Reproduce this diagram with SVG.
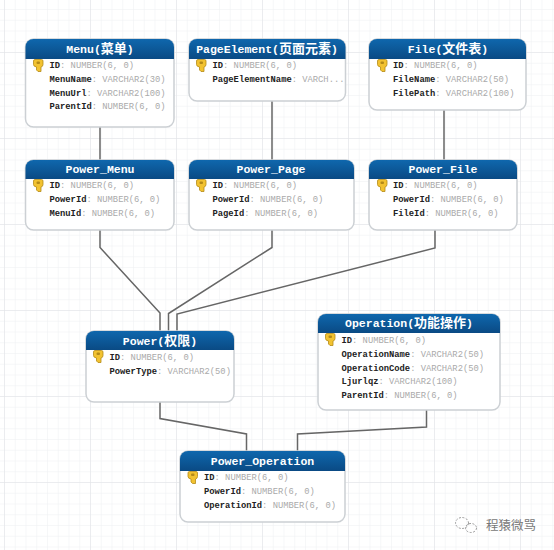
<svg xmlns="http://www.w3.org/2000/svg" width="554" height="550" viewBox="0 0 554 550">
<style>
.t{font:bold 11.500px "Liberation Mono","Noto Sans CJK SC",monospace;fill:#fff;text-anchor:middle}
.t tspan{font-size:13px;font-family:"Noto Sans CJK SC",sans-serif}
.f{font:8.800px "Liberation Mono",monospace;fill:#222;font-weight:bold}
.f tspan{fill:#aaa;font-weight:normal}
.b{fill:#fff;stroke:#ccd0d4;stroke-width:1.5}
.h{fill:url(#hd)}
.c{fill:none;stroke:#666;stroke-width:1.5}
.w{fill:none;stroke:#999;stroke-width:1;stroke-dasharray:2 1.500}
</style>
<defs>
<pattern id="minor" width="10.75" height="10.75" patternUnits="userSpaceOnUse" x="4" y="-1.75"><path d="M0 0V10.75M0 0H10.75" fill="none" stroke="#eef0f2" stroke-width="1"/></pattern>
<pattern id="major" width="86" height="86" patternUnits="userSpaceOnUse" x="4" y="52"><path d="M0 0V86M0 0H86" fill="none" stroke="#dfe2e5" stroke-width="1"/></pattern>
<linearGradient id="hd" x1="0" y1="0" x2="0" y2="1"><stop offset="0" stop-color="#0f67ad"/><stop offset="1" stop-color="#0a4a84"/></linearGradient>
<g id="key"><path d="M0 1.500Q0 0 1.500 0H8Q9.500 0 9.500 1.500V5Q9.500 7 7.500 7.500V12H4.500L3 10.500V7.500Q0 7 0 5Z" fill="#f2c230" stroke="#b48a18" stroke-width="0.8"/><rect x="3" y="2" width="3.500" height="2.500" rx="1" fill="#b48a18"/></g>
</defs>
<rect width="554" height="550" fill="#fff"/>
<rect width="554" height="550" fill="url(#minor)"/>
<rect width="554" height="550" fill="url(#major)"/>
<g id="connectors">
<path class="c" d="M100 127V160"/>
<path class="c" d="M272 101V160"/>
<path class="c" d="M444 110V160"/>
<path class="c" d="M100 230V247.500L160 313V331"/>
<path class="c" d="M272 230V247.500L168.500 313.500V331"/>
<path class="c" d="M435 230V248L177 314V331"/>
<path class="c" d="M160 402V418.500L246.500 434V451"/>
<path class="c" d="M426.500 410V427L297.500 434V451"/>
</g>
<g id="menu"><rect class="b" x="25.500" y="39" width="148.500" height="88" rx="8"/><path class="h" d="M25.500 59V47a8 8 0 0 1 8-8H166a8 8 0 0 1 8 8V59Z"/><text class="t" x="100" y="53">Menu(<tspan>菜单</tspan>)</text><use href="#key" x="33.500" y="59.500"/><text class="f" x="49.500" y="68">ID<tspan>: NUMBER(6, 0)</tspan></text><text class="f" x="49.500" y="82">MenuName<tspan>: VARCHAR2(30)</tspan></text><text class="f" x="49.500" y="95.500">MenuUrl<tspan>: VARCHAR2(100)</tspan></text><text class="f" x="49.500" y="109">ParentId<tspan>: NUMBER(6, 0)</tspan></text></g>
<g id="pageelement"><rect class="b" x="189" y="39" width="156.500" height="62" rx="8"/><path class="h" d="M189 59V47a8 8 0 0 1 8-8H337.500a8 8 0 0 1 8 8V59Z"/><text class="t" x="267" y="53">PageElement(<tspan>页面元素</tspan>)</text><use href="#key" x="196.500" y="59.500"/><text class="f" x="212.500" y="68">ID<tspan>: NUMBER(6, 0)</tspan></text><text class="f" x="212.500" y="82">PageElementName<tspan>: VARCH...</tspan></text></g>
<g id="file"><rect class="b" x="369" y="39" width="157" height="71" rx="8"/><path class="h" d="M369 59V47a8 8 0 0 1 8-8H518a8 8 0 0 1 8 8V59Z"/><text class="t" x="448" y="53">File(<tspan>文件表</tspan>)</text><use href="#key" x="377.500" y="59.500"/><text class="f" x="393" y="68">ID<tspan>: NUMBER(6, 0)</tspan></text><text class="f" x="393" y="82">FileName<tspan>: VARCHAR2(50)</tspan></text><text class="f" x="393" y="95.500">FilePath<tspan>: VARCHAR2(100)</tspan></text></g>
<g id="power_menu"><rect class="b" x="25.500" y="160" width="148.500" height="70" rx="8"/><path class="h" d="M25.500 179V168a8 8 0 0 1 8-8H166a8 8 0 0 1 8 8V179Z"/><text class="t" x="100" y="173">Power_Menu</text><use href="#key" x="33.500" y="179.500"/><text class="f" x="49.500" y="188">ID<tspan>: NUMBER(6, 0)</tspan></text><text class="f" x="49.500" y="202">PowerId<tspan>: NUMBER(6, 0)</tspan></text><text class="f" x="49.500" y="215.500">MenuId<tspan>: NUMBER(6, 0)</tspan></text></g>
<g id="power_page"><rect class="b" x="189" y="160" width="165" height="70" rx="8"/><path class="h" d="M189 179V168a8 8 0 0 1 8-8H346a8 8 0 0 1 8 8V179Z"/><text class="t" x="271" y="173">Power_Page</text><use href="#key" x="196.500" y="179.500"/><text class="f" x="212.500" y="188">ID<tspan>: NUMBER(6, 0)</tspan></text><text class="f" x="212.500" y="202">PowerId<tspan>: NUMBER(6, 0)</tspan></text><text class="f" x="212.500" y="215.500">PageId<tspan>: NUMBER(6, 0)</tspan></text></g>
<g id="power_file"><rect class="b" x="369" y="160" width="148" height="70" rx="8"/><path class="h" d="M369 179V168a8 8 0 0 1 8-8H509a8 8 0 0 1 8 8V179Z"/><text class="t" x="443" y="173">Power_File</text><use href="#key" x="377.500" y="179.500"/><text class="f" x="393" y="188">ID<tspan>: NUMBER(6, 0)</tspan></text><text class="f" x="393" y="202">PowerId<tspan>: NUMBER(6, 0)</tspan></text><text class="f" x="393" y="215.500">FileId<tspan>: NUMBER(6, 0)</tspan></text></g>
<g id="power"><rect class="b" x="86" y="331" width="148" height="71" rx="8"/><path class="h" d="M86 350V339a8 8 0 0 1 8-8H226a8 8 0 0 1 8 8V350Z"/><text class="t" x="160" y="345">Power(<tspan>权限</tspan>)</text><use href="#key" x="93.500" y="350.500"/><text class="f" x="109.500" y="360">ID<tspan>: NUMBER(6, 0)</tspan></text><text class="f" x="109.500" y="374">PowerType<tspan>: VARCHAR2(50)</tspan></text></g>
<g id="operation"><rect class="b" x="318" y="314" width="182" height="96" rx="8"/><path class="h" d="M318 333V322a8 8 0 0 1 8-8H492a8 8 0 0 1 8 8V333Z"/><text class="t" x="409" y="327">Operation(<tspan>功能操作</tspan>)</text><use href="#key" x="325.500" y="333.500"/><text class="f" x="341.500" y="343">ID<tspan>: NUMBER(6, 0)</tspan></text><text class="f" x="341.500" y="357">OperationName<tspan>: VARCHAR2(50)</tspan></text><text class="f" x="341.500" y="370.500">OperationCode<tspan>: VARCHAR2(50)</tspan></text><text class="f" x="341.500" y="384">Ljurlqz<tspan>: VARCHAR2(100)</tspan></text><text class="f" x="341.500" y="397.500">ParentId<tspan>: NUMBER(6, 0)</tspan></text></g>
<g id="power_operation"><rect class="b" x="180" y="451" width="165" height="71" rx="8"/><path class="h" d="M180 471V459a8 8 0 0 1 8-8H337a8 8 0 0 1 8 8V471Z"/><text class="t" x="262.500" y="465">Power_Operation</text><use href="#key" x="188" y="471.500"/><text class="f" x="204" y="480">ID<tspan>: NUMBER(6, 0)</tspan></text><text class="f" x="204" y="494">PowerId<tspan>: NUMBER(6, 0)</tspan></text><text class="f" x="204" y="507.500">OperationId<tspan>: NUMBER(6, 0)</tspan></text></g>
<g id="watermark"><ellipse class="w" cx="462" cy="523" rx="6.500" ry="5.500"/><ellipse class="w" cx="471" cy="528" rx="5.500" ry="4.500"/><text x="486" y="530" font-family="Noto Sans CJK SC, sans-serif" font-size="12.500" fill="#777">程猿微骂</text></g>
</svg>
